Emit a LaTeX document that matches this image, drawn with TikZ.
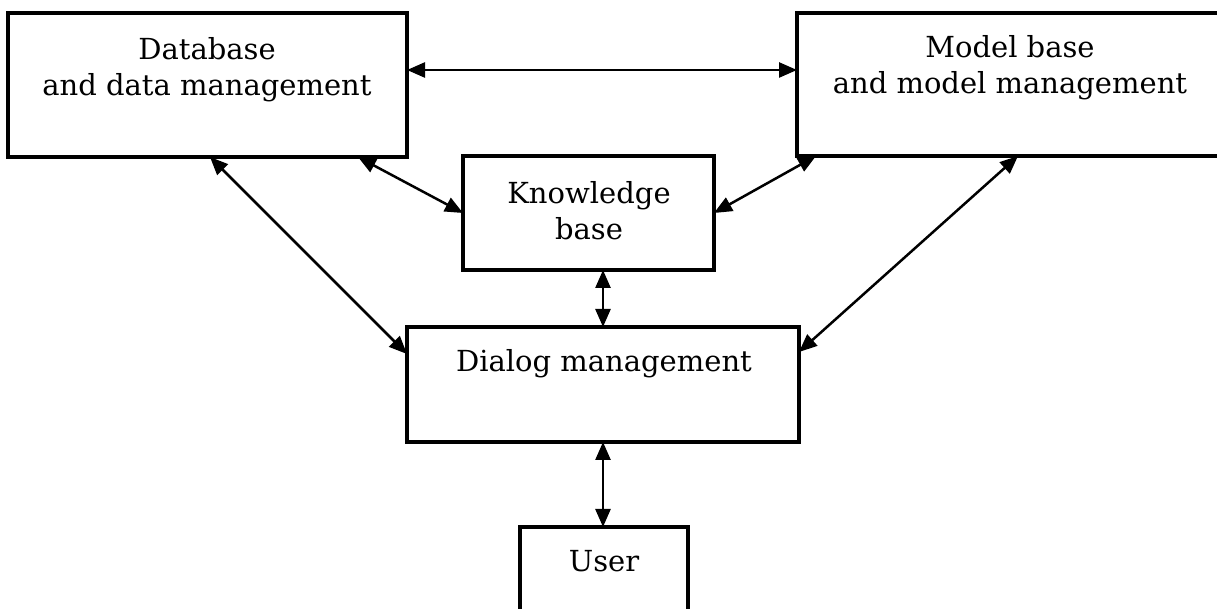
\documentclass[tikz,border=0pt]{standalone}
\usepackage{fontspec}
\setmainfont{DejaVu Serif}
\usetikzlibrary{arrows.meta,calc}
\begin{document}
\begin{tikzpicture}[x=0.5pt,y=-0.5pt,
  box/.style={draw,line width=1.6pt,rectangle,inner sep=0pt,outer sep=0pt},
  lbl/.style={font=\fontsize{14.5}{18}\selectfont,align=center,inner sep=0pt},
  link/.style={line width=1.25pt,{Triangle[length=9pt,width=7.5pt]}-{Triangle[length=9pt,width=7.5pt]}}]
\useasboundingbox (0,0) rectangle (1217,609);
\clip (0,0) rectangle (1217,609);
% boxes
\node[box,minimum width=199.5pt,minimum height=72pt] (db) at (207.5,85) {};
\node[box,minimum width=212.5pt,minimum height=71.5pt] (mb) at (1009.5,84.5) {};
\node[box,minimum width=125.5pt,minimum height=57pt] (kb) at (588.5,213) {};
\node[box,minimum width=196pt,minimum height=57.5pt] (dm) at (603,384.5) {};
\node[box,minimum width=84pt,minimum height=76.5pt] (um) at (604,603.5) {};
% texts
\node[lbl] (dbt) at (207,70) {Database\\and data management};
\node[lbl] (mbt) at (1010,68) {Model base\\and model management};
\node[lbl] (kbt) at (589,211) {Knowledge\\base};
\node[lbl,anchor=base] (dmt) at (604,372) {Dialog management};
\node[lbl,anchor=base] (umt) at (604,572) {User};
% connectors
\draw[link] ($(db.north east)+(0,57)$) -- ($(mb.north west)+(0,57)$);
\draw[link] ($(db.south west)+(202,0)$) -- ($(dm.north west)+(0,27)$);
\draw[link] ($(db.south west)+(350,0)$) -- (kb.west);
\draw[link] (kb.east) -- ($(mb.south west)+(19,0)$);
\draw[link] ($(mb.south west)+(221,0)$) -- ($(dm.north east)+(0,25)$);
\draw[link] (dm.north) -- (dm.north |- kb.south);
\draw[link] (dm.south) -- (dm.south |- um.north);
\end{tikzpicture}
\end{document}
